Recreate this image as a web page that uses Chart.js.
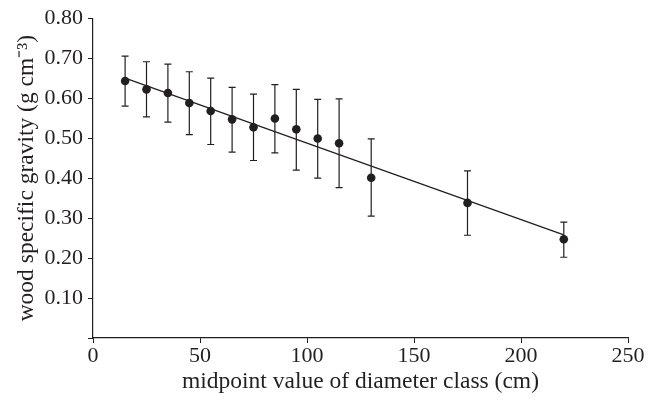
<!DOCTYPE html>
<html>
<head>
<meta charset="utf-8">
<script src="https://cdn.jsdelivr.net/npm/chart.js@4"></script>
<style>
html,body{margin:0;padding:0;background:#fff;}
#wrap{width:659px;height:406px;}
</style>
</head>
<body>
<div id="wrap"><canvas id="c" width="659" height="406"></canvas></div>
<script>
// Data
const diameterMidpoints = [15, 25, 35, 45, 55, 65, 75, 85, 95, 105, 115, 130, 175, 220];
const meanGravity      = [0.643, 0.622, 0.613, 0.588, 0.568, 0.547, 0.527, 0.549, 0.522, 0.499, 0.487, 0.401, 0.338, 0.247];
const upperGravity     = [0.705, 0.691, 0.685, 0.666, 0.650, 0.627, 0.610, 0.634, 0.622, 0.597, 0.598, 0.498, 0.418, 0.290];
const lowerGravity     = [0.580, 0.553, 0.540, 0.509, 0.484, 0.465, 0.444, 0.463, 0.420, 0.400, 0.376, 0.305, 0.257, 0.202];
const fitX = [15, 220];
const fitY = [0.650, 0.258];
const xTicks = [0, 50, 100, 150, 200, 250];
const yTicks = [0, 0.1, 0.2, 0.3, 0.4, 0.5, 0.6, 0.7, 0.8];

const ink = '#231f20';
const tickFont = {family: '"Liberation Serif", "Times New Roman", serif', size: 22};
const titleFont = {family: '"Liberation Serif", "Times New Roman", serif', size: 23.5};

const errorBars = {
  id: 'errorBars',
  afterDatasetsDraw(chart) {
    const {ctx, scales: {x, y}} = chart;
    ctx.save();
    ctx.strokeStyle = ink;
    ctx.lineWidth = 1.2;
    diameterMidpoints.forEach((d, i) => {
      const px = x.getPixelForValue(d);
      const top = y.getPixelForValue(upperGravity[i]);
      const bot = y.getPixelForValue(lowerGravity[i]);
      ctx.beginPath();
      ctx.moveTo(px, top); ctx.lineTo(px, bot);
      ctx.moveTo(px - 3.5, top); ctx.lineTo(px + 3.5, top);
      ctx.moveTo(px - 3.5, bot); ctx.lineTo(px + 3.5, bot);
      ctx.stroke();
    });
    ctx.restore();
  }
};

new Chart(document.getElementById('c'), {
  type: 'scatter',
  data: {
    datasets: [
      {
        type: 'line',
        data: fitX.map((v, i) => ({x: v, y: fitY[i]})),
        borderColor: ink,
        borderWidth: 1.3,
        pointRadius: 0,
        fill: false,
        order: 2
      },
      {
        data: diameterMidpoints.map((v, i) => ({x: v, y: meanGravity[i]})),
        backgroundColor: ink,
        borderColor: ink,
        pointRadius: 4.3,
        borderWidth: 0,
        order: 1
      }
    ]
  },
  options: {
    responsive: false,
    animation: false,
    events: [],
    layout: {padding: {top: 18, right: 31, left: 0, bottom: 0}},
    plugins: {legend: {display: false}, tooltip: {enabled: false}},
    scales: {
      x: {
        type: 'linear',
        min: 0, max: 250,
        afterBuildTicks(s) { s.ticks = xTicks.map(v => ({value: v})); },
        afterFit(s) { s.height = 68; },
        grid: {drawOnChartArea: false, drawTicks: true, tickLength: 5, color: ink, lineWidth: 1},
        border: {display: true, color: ink, width: 1.2},
        ticks: {color: ink, font: tickFont, padding: 0, maxRotation: 0},
        title: {display: true, text: 'midpoint value of diameter class (cm)', color: ink, font: titleFont, padding: {top: 0, bottom: 10}}
      },
      y: {
        type: 'linear',
        min: 0, max: 0.8,
        afterBuildTicks(s) { s.ticks = yTicks.map(v => ({value: v})); },
        afterFit(s) { s.width = 93; },
        grid: {drawOnChartArea: false, drawTicks: true, tickLength: 5, color: ink, lineWidth: 1},
        border: {display: true, color: ink, width: 1.2},
        ticks: {color: ink, font: tickFont, padding: 5, callback: v => v === 0 ? '' : v.toFixed(2)},
        title: {display: true, text: 'wood specific gravity (g cm\u207B\u00B3)', color: ink, font: titleFont, padding: {top: 13, bottom: 0}}
      }
    }
  },
  plugins: [errorBars]
});
</script>
</body>
</html>
